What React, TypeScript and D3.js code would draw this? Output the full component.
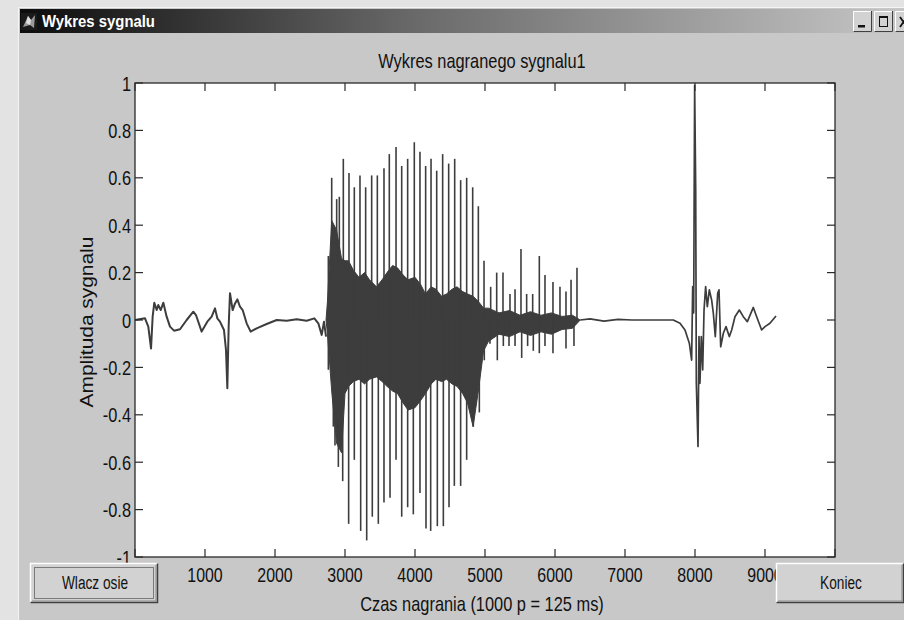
import React from 'react';
import * as d3 from 'd3';

// ---------- data ----------
const xTickValues = [0, 1000, 2000, 3000, 4000, 5000, 6000, 7000, 8000, 9000, 10000];
const xTickLabels = ['1000', '2000', '3000', '4000', '5000', '6000', '7000', '8000', '9000'];
const yTickValues = [-1, -0.8, -0.6, -0.4, -0.2, 0, 0.2, 0.4, 0.6, 0.8, 1];
const yTickLabels = ['-1', '-0.8', '-0.6', '-0.4', '-0.2', '0', '0.2', '0.4', '0.6', '0.8', '1'];

// slow / quiet parts of the recorded trace (sample index, amplitude)
const traceSamples = [
  1, 143, 190, 229, 252, 276, 310, 333, 367, 405, 452, 500, 557, 643, 738, 833, 871, 952, 1033, 1095,
  1143, 1176, 1214, 1271, 1300, 1319, 1338, 1357, 1395, 1429, 1462, 1500, 1538, 1595, 1652, 1738, 1881,
  2024, 2167, 2310, 2452, 2562, 2619, 2667, 2700, 2729,
  6360, 6500, 6700, 6900, 7100, 7357, 7690, 7786, 7857, 7919, 7952, 7967, 7981, 7995, 8010, 8019, 8043,
  8057, 8071, 8090, 8110, 8129, 8152, 8176, 8205, 8238, 8262, 8290, 8324, 8343, 8367, 8405, 8443, 8490,
  8524, 8571, 8633, 8690, 8748, 8833, 8881, 8952, 9000, 9071, 9157,
];
const traceAmps = [
  0, 0.007, -0.028, -0.12, 0.014, 0.073, 0.042, 0.063, 0.042, 0.073, 0.014, -0.028, -0.045, -0.039, 0, 0.035,
  0.021, -0.049, -0.007, 0.014, 0.049, 0.007, -0.007, -0.042, -0.127, -0.288, -0.028, 0.113, 0.042, 0.07,
  0.087, 0.056, 0.042, -0.014, -0.049, -0.035, -0.017, 0, -0.003, 0.003, -0.003, 0.007, -0.014, -0.063,
  -0.007, -0.07,
  0, 0.005, -0.005, 0.003, 0, 0, 0, -0.014, -0.042, -0.098, -0.169, 0.141, 0.03, 0.99, 0.549, -0.267, -0.534,
  -0.07, -0.267, -0.07, -0.211, 0.042, 0.141, 0.056, 0.127, 0.084, 0.028, -0.07, 0.113, 0.127, -0.113, -0.056,
  -0.028, -0.07, -0.042, 0.014, 0.042, 0.014, -0.007, 0.053, 0.014, -0.042, -0.028, -0.014, 0.017,
];

// dense voiced segment: envelope of the dark core
const coreSamples = [2729, 2750, 2810, 2880, 2950, 3000, 3050, 3120, 3200, 3280, 3350, 3450, 3530, 3600, 3680,
  3750, 3830, 3900, 4000, 4080, 4150, 4230, 4300, 4380, 4450, 4530, 4600, 4680, 4750, 4830, 4900, 4980, 5050,
  5200, 5350, 5500, 5650, 5800, 5950, 6100, 6250, 6360];
const coreUpper = [0, 0.08, 0.42, 0.38, 0.26, 0.25, 0.25, 0.21, 0.18, 0.2, 0.17, 0.14, 0.17, 0.2, 0.23,
  0.22, 0.19, 0.17, 0.18, 0.15, 0.11, 0.14, 0.13, 0.1, 0.11, 0.13, 0.14, 0.12, 0.11, 0.1, 0.08, 0.05, 0.05,
  0.03, 0.04, 0.02, 0.035, 0.02, 0.03, 0.015, 0.02, 0];
const coreLower = [0, -0.06, -0.3, -0.52, -0.56, -0.31, -0.28, -0.26, -0.25, -0.27, -0.25, -0.24, -0.26,
  -0.28, -0.3, -0.31, -0.35, -0.38, -0.37, -0.34, -0.31, -0.27, -0.25, -0.26, -0.25, -0.27, -0.28, -0.31,
  -0.35, -0.45, -0.31, -0.13, -0.09, -0.06, -0.07, -0.05, -0.065, -0.05, -0.06, -0.04, -0.035, 0];

// individual pulse peaks above and below the core
const peakSamples = [2762, 2810, 2881, 2919, 2976, 3057, 3133, 3214, 3295, 3381, 3462, 3557, 3633, 3729, 3810,
  3895, 3990, 4071, 4152, 4229, 4310, 4395, 4481, 4567, 4652, 4738, 4824, 4905, 4986, 5081, 5167, 5257, 5357,
  5429, 5514, 5595, 5681, 5776, 5857, 5971, 6071, 6157, 6229, 6314];
const peakAmps = [0.27, 0.6, 0.51, 0.52, 0.68, 0.62, 0.56, 0.61, 0.56, 0.61, 0.61, 0.64, 0.7, 0.73, 0.65, 0.68,
  0.75, 0.71, 0.65, 0.68, 0.63, 0.7, 0.66, 0.68, 0.59, 0.6, 0.56, 0.48, 0.25, 0.14, 0.2, 0.2, 0.11, 0.13, 0.3,
  0.11, 0.11, 0.27, 0.19, 0.16, 0.14, 0.12, 0.17, 0.22];
const troughSamples = [2762, 2833, 2857, 2905, 2967, 3052, 3133, 3224, 3310, 3390, 3476, 3557, 3643, 3729, 3810,
  3895, 3976, 4071, 4157, 4224, 4319, 4405, 4486, 4562, 4652, 4738, 4833, 4919, 4990, 5071, 5176, 5262, 5343,
  5429, 5524, 5609, 5690, 5776, 5857, 5971, 6157, 6271];
const troughAmps = [-0.21, -0.45, -0.53, -0.62, -0.68, -0.86, -0.59, -0.89, -0.93, -0.83, -0.86, -0.77, -0.75,
  -0.59, -0.83, -0.79, -0.82, -0.73, -0.88, -0.89, -0.87, -0.87, -0.79, -0.7, -0.7, -0.59, -0.45, -0.39, -0.17,
  -0.1, -0.17, -0.11, -0.11, -0.11, -0.16, -0.11, -0.13, -0.14, -0.11, -0.14, -0.12, -0.11];

const windowTitle = 'Wykres sygnalu';
const chartTitle = 'Wykres nagranego sygnalu1';
const xLabel = 'Czas nagrania (1000 p = 125 ms)';
const yLabel = 'Amplituda sygnalu';
const buttonLeft = 'Wlacz osie';
const buttonRight = 'Koniec';

const FONT = "'Liberation Sans', Arial, Helvetica, sans-serif";
const INK = '#3d3d3d';

function T(props: { x: number; y: number; sx?: number; size?: number; anchor?: string; rotate?: number; weight?: string; fill?: string; children: any }) {
  const { x, y, sx = 0.82, size = 20, anchor = 'middle', rotate = 0, weight = 'normal', fill = '#111' } = props;
  return (
    <text
      transform={`translate(${x},${y}) rotate(${rotate}) scale(${sx},1)`}
      textAnchor={anchor}
      fontSize={size}
      fontFamily={FONT}
      fontWeight={weight}
      fill={fill}
    >
      {props.children}
    </text>
  );
}

function Button(props: { x: number; y: number; w: number; h: number; label: string; focus?: boolean; tx: number }) {
  const { x, y, w, h, label, focus, tx } = props;
  return (
    <g>
      <rect x={x} y={y} width={w} height={h} fill="#d2d2d2" />
      <path d={`M${x + 0.5},${y + h - 0.5} V${y + 0.5} H${x + w - 0.5}`} stroke="#ffffff" strokeWidth={1.5} fill="none" />
      <path d={`M${x + 0.5},${y + h - 0.5} H${x + w - 0.5} V${y + 0.5}`} stroke="#404040" strokeWidth={1.5} fill="none" />
      <path d={`M${x + 2},${y + h - 2} H${x + w - 2} V${y + 2}`} stroke="#8a8a8a" strokeWidth={1} fill="none" />
      {focus && (
        <rect x={x + 4.5} y={y + 4.5} width={w - 9} height={h - 9} fill="none" stroke="#222" strokeWidth={1} strokeDasharray="1,1" />
      )}
      <T x={tx} y={y + 26} sx={0.72} size={19}>{label}</T>
    </g>
  );
}

export default function App() {
  const W = 904, H = 620;
  const plot = { left: 135, right: 835, top: 83, bottom: 557 };
  const x = d3.scaleLinear().domain([0, 10000]).range([plot.left, plot.right]);
  const y = d3.scaleLinear().domain([-1, 1]).range([plot.bottom, plot.top]);

  const tracePts: [number, number][] = traceSamples.map((s, i) => [s, traceAmps[i]]);
  const line = d3.line<[number, number]>().x(d => x(d[0])).y(d => y(d[1]));
  const leftPath = line(tracePts.filter(d => d[0] <= 2729)) || '';
  const rightPath = line(tracePts.filter(d => d[0] >= 6360)) || '';
  const coreIdx = coreSamples.map((_, i) => i);
  const corePath = d3.area<number>()
    .x(i => x(coreSamples[i]))
    .y0(i => y(coreLower[i]))
    .y1(i => y(coreUpper[i]))
    .curve(d3.curveLinear)(coreIdx) || '';

  const tick = 8;

  return (
    <div style={{ position: 'fixed', left: 0, top: 0, width: W, height: H, overflow: 'hidden' }}>
      <svg width={W} height={H} viewBox={`0 0 ${W} ${H}`} style={{ display: 'block' }}>
        <defs>
          <linearGradient id="tb" x1="0" x2="1" y1="0" y2="0">
            <stop offset="0" stopColor="#0c0c0c" />
            <stop offset="0.45" stopColor="#6a6a6a" />
            <stop offset="1" stopColor="#c6c6c6" />
          </linearGradient>
        </defs>
        {/* desktop background */}
        <rect x={0} y={0} width={W} height={H} fill="#e3e3e3" />
        {/* window */}
        <rect x={18} y={7} width={W - 18} height={H - 7} fill="#c8c8c8" />
        <line x1={18.5} y1={7} x2={18.5} y2={H} stroke="#f4f4f4" strokeWidth={1} />
        <line x1={18} y1={7.5} x2={W} y2={7.5} stroke="#f4f4f4" strokeWidth={1} />
        {/* title bar */}
        <rect x={20} y={9} width={W - 20} height={24} fill="url(#tb)" />
        <g>
          <rect x={21} y={13} width={16} height={17} fill="#1a1a1a" />
          <path d="M23,27 L28,16 L31,20 L35,15 L34,28 L30,25 Z" fill="#9a9a9a" />
          <path d="M28,16 L31,20 L30,25 L26,23 Z" fill="#e0e0e0" />
        </g>
        <T x={42} y={27} sx={0.93} size={16} anchor="start" weight="bold" fill="#ffffff">{windowTitle}</T>
        {/* title bar buttons */}
        {[853, 874, 895].map((bx, i) => (
          <g key={bx}>
            <rect x={bx} y={11} width={19} height={21} fill="#d2d2d2" />
            <path d={`M${bx + 0.5},${32} V${11.5} H${bx + 19}`} stroke="#fff" fill="none" />
            <path d={`M${bx + 0.5},${31.5} H${bx + 18.5} V${11}`} stroke="#404040" fill="none" />
            {i === 0 && <rect x={bx + 5} y={25} width={7} height={2.5} fill="#111" />}
            {i === 1 && <rect x={bx + 5.5} y={16.5} width={8} height={10} fill="none" stroke="#111" strokeWidth={1} />}
            {i === 1 && <rect x={bx + 5.5} y={16.5} width={8} height={1.5} fill="#111" />}
            {i === 2 && <path d={`M${bx + 5},${17} L${bx + 12},${27} M${bx + 12},${17} L${bx + 5},${27}`} stroke="#111" strokeWidth={1.8} />}
          </g>
        ))}

        {/* chart title */}
        <T x={482} y={68}>{chartTitle}</T>

        {/* plot area */}
        <rect x={plot.left} y={plot.top} width={plot.right - plot.left} height={plot.bottom - plot.top} fill="#ffffff" />

        {/* signal */}
        <path d={corePath} fill={INK} stroke={INK} strokeWidth={1} />
        {peakSamples.map((s, i) => (
          <line key={'p' + i} x1={x(s)} x2={x(s)} y1={y(0)} y2={y(peakAmps[i])} stroke={INK} strokeWidth={1.6} />
        ))}
        {troughSamples.map((s, i) => (
          <line key={'t' + i} x1={x(s)} x2={x(s)} y1={y(0)} y2={y(troughAmps[i])} stroke={INK} strokeWidth={1.6} />
        ))}
        <path d={leftPath} fill="none" stroke={INK} strokeWidth={2} strokeLinejoin="round" />
        <path d={rightPath} fill="none" stroke={INK} strokeWidth={1.7} strokeLinejoin="round" />

        {/* axes box and ticks */}
        <rect x={plot.left} y={plot.top} width={plot.right - plot.left} height={plot.bottom - plot.top} fill="none" stroke="#2a2a2a" strokeWidth={1.3} />
        {xTickValues.map(v => (
          <g key={'xt' + v}>
            <line x1={x(v)} x2={x(v)} y1={plot.bottom} y2={plot.bottom - tick} stroke="#2a2a2a" strokeWidth={1.2} />
            <line x1={x(v)} x2={x(v)} y1={plot.top} y2={plot.top + tick} stroke="#2a2a2a" strokeWidth={1.2} />
          </g>
        ))}
        {yTickValues.map(v => (
          <g key={'yt' + v}>
            <line x1={plot.left} x2={plot.left + tick} y1={y(v)} y2={y(v)} stroke="#2a2a2a" strokeWidth={1.2} />
            <line x1={plot.right} x2={plot.right - tick} y1={y(v)} y2={y(v)} stroke="#2a2a2a" strokeWidth={1.2} />
          </g>
        ))}
        {yTickValues.map((v, i) => (
          <T key={'yl' + v} x={131} y={y(v) + 7.5} anchor="end" size={21} sx={0.78}>{yTickLabels[i]}</T>
        ))}
        {xTickLabels.map(l => (
          <T key={'xl' + l} x={x(+l)} y={582} size={21} sx={0.76}>{l}</T>
        ))}

        {/* axis labels */}
        <T x={482} y={611}>{xLabel}</T>
        <T x={93} y={322} rotate={-90} sx={1.1} size={19}>{yLabel}</T>

        {/* ui buttons */}
        <Button x={30} y={563} w={128} h={40} label={buttonLeft} focus tx={95} />
        <Button x={776} y={563} w={128} h={40} label={buttonRight} tx={841} />
      </svg>
    </div>
  );
}
